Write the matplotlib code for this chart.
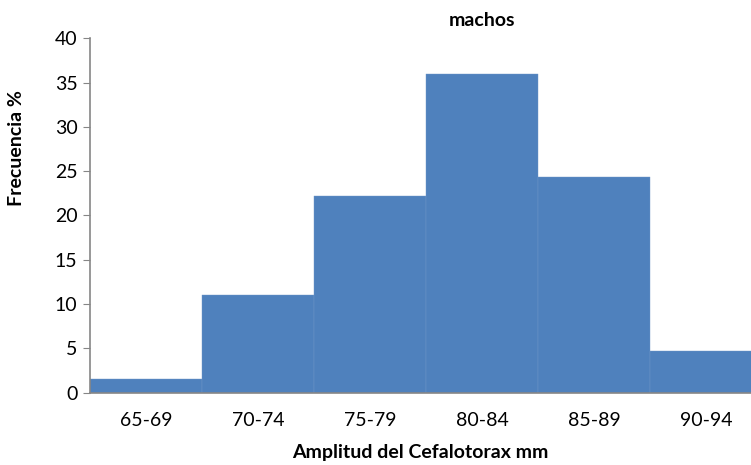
import matplotlib.pyplot as plt

categories = ['65-69', '70-74', '75-79', '80-84', '85-89', '90-94']
frecuencia = [1.5, 11.0, 22.2, 36.0, 24.3, 4.7]

plt.rcParams['font.family'] = ['Lato', 'DejaVu Sans']

fig = plt.figure(figsize=(7.51, 4.65), dpi=100)
# axes runs past the right edge, as in the reference
ax = fig.add_axes([90 / 751, 1 - 392.7 / 465, 672 / 751, 354.4 / 465])

x = list(range(len(categories)))
ax.bar(x, frecuencia, width=1.0, color='#4F81BD', edgecolor='#6F97C8', linewidth=0.3)

ax.set_xlim(-0.5, len(categories) - 0.5)
ax.set_ylim(0, 40)
ax.set_yticks(range(0, 41, 5))
ax.set_xticks(x)
ax.set_xticklabels(categories)

for s in ['top', 'right']:
    ax.spines[s].set_visible(False)
for s in ['left', 'bottom']:
    ax.spines[s].set_color('#868686')
    ax.spines[s].set_linewidth(1.2)

ax.tick_params(axis='y', length=5, color='#868686', labelsize=14, pad=4)
ax.tick_params(axis='x', length=0, labelsize=14, pad=14)

fig.text(482 / 751, 1 - 20 / 465, 'machos', ha='center', va='center',
         fontsize=14, fontweight='bold')
fig.text(420 / 751, 1 - 452 / 465, 'Amplitud del Cefalotorax mm', ha='center',
         va='center', fontsize=14, fontweight='bold')
fig.text(17 / 751, 1 - 148 / 465, 'Frecuencia %', ha='center', va='center',
         rotation=90, fontsize=14, fontweight='bold')

fig.savefig('out.png', dpi=100)
